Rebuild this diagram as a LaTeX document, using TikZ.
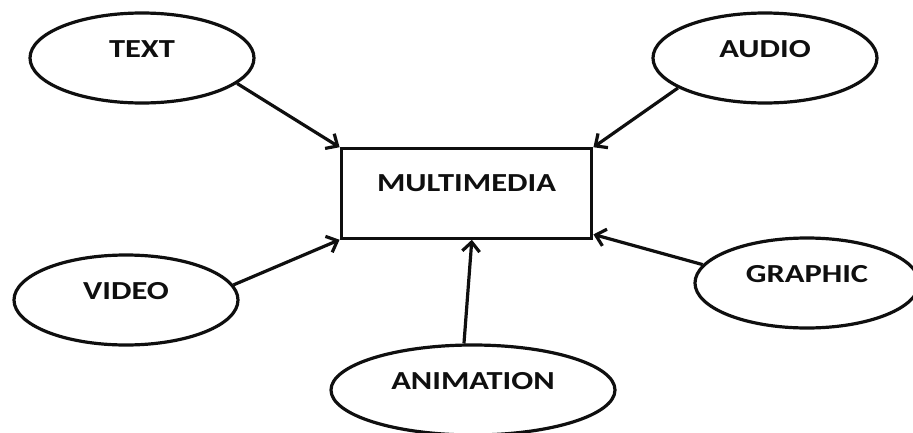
\documentclass[tikz,border=0pt]{standalone}
\usepackage{fontspec}
\setmainfont{Carlito}
\usetikzlibrary{shapes.geometric,arrows.meta}
\definecolor{InkBlack}{RGB}{15,15,15}
\newcommand{\wide}[1]{\scalebox{1.25}[1]{#1}}
\tikzset{
	media/.style={ellipse,draw=InkBlack,line width=2.4pt,inner sep=0pt,
		minimum width=168pt,minimum height=67.5pt},
	hub/.style={rectangle,draw=InkBlack,line width=2.4pt,inner sep=0pt,
		minimum width=188pt,minimum height=67pt},
	lbl/.style={font=\fontsize{19.5}{20}\selectfont\bfseries,text=InkBlack,inner sep=0pt},
	feed/.style={draw=InkBlack,line width=2.4pt,-{Straight Barb[length=7pt,width=13pt]}},
}
\begin{document}
\begin{tikzpicture}[x=0.75pt,y=-0.75pt]
	\useasboundingbox (0,0) rectangle (913,432);
	\node[hub,label={[lbl,yshift=8pt]center:\wide{MULTIMEDIA}}] (m) at (466.5,193.5) {};
	\node[media,label={[lbl,yshift=6.5pt]center:\wide{TEXT}}] (t) at (142,58) {};
	\node[media,label={[lbl,yshift=6.5pt]center:\wide{AUDIO}}] (a) at (765,58) {};
	\node[media,label={[lbl,yshift=6.5pt]center:\wide{VIDEO}}] (v) at (126,300) {};
	\node[media,label={[lbl,yshift=6.5pt]center:\wide{GRAPHIC}}] (g) at (807,283) {};
	\node[media,minimum width=213pt,label={[lbl,yshift=6.5pt]center:\wide{ANIMATION}}] (n) at (473,390) {};
	\draw[feed] (t.-15) -- (m.north west);
	\draw[feed] (a.199) -- (m.north east);
	\draw[feed] (v.8) -- (m.south west);
	\draw[feed] (g.170) -- ([yshift=4pt]m.south east);
	\draw[feed] (n.101) -- ([xshift=4pt]m.south);
\end{tikzpicture}
\end{document}
